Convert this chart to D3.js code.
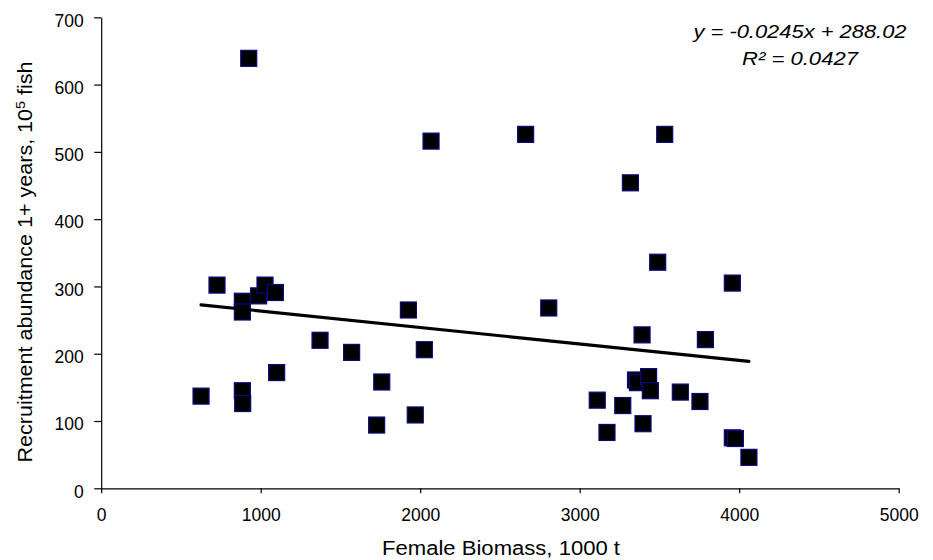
<!DOCTYPE html>
<html>
<head>
<meta charset="utf-8">
<script src="https://cdn.jsdelivr.net/npm/d3@7"></script>
<style>
  html, body { margin: 0; padding: 0; background: #fff; }
  svg { display: block; font-family: "Liberation Sans", Arial, sans-serif; }
</style>
</head>
<body>
<svg id="chart" width="933" height="560"></svg>
<script>
// Female biomass (1000 t)
const biomass = [626, 726, 885, 885, 885, 887, 925, 987, 1027, 1092,
                 1100, 1372, 1570, 1727, 1759, 1926, 1969, 2026, 2068, 2661,
                 2806, 3110, 3171, 3270, 3318, 3350, 3362, 3391, 3397, 3432,
                 3443, 3489, 3533, 3631, 3754, 3788, 3957, 3957, 3976, 4061];
// Recruitment abundance 1+ years (10^5 fish)
const recruitment = [137, 302, 278, 262, 145, 126, 639, 286, 302, 291,
                     172, 220, 202, 94, 158, 265, 109, 206, 516, 526,
                     268, 131, 83, 123, 454, 161, 157, 228, 96, 166,
                     145, 336, 526, 143, 129, 221, 305, 75, 74, 46];
// Trend line y = slope*x + intercept
const slope = -0.0245;
const intercept = 288.02;
const xTicks = [0, 1000, 2000, 3000, 4000, 5000];
const yTicks = [0, 100, 200, 300, 400, 500, 600, 700];
const equationLines = ["y = -0.0245x + 288.02", "R² = 0.0427"];

const svg = d3.select("#chart");
const x = d3.scaleLinear().domain([0, 5000]).range([101.2, 898.7]);
const y = d3.scaleLinear().domain([0, 700]).range([488.3, 17.3]);

// Axes
const xAxis = svg.append("g")
  .attr("transform", `translate(0,${y(0)})`)
  .call(d3.axisBottom(x).tickValues(xTicks).tickFormat(d3.format("d"))
    .tickSize(5).tickSizeOuter(0).tickPadding(15));
const yAxis = svg.append("g")
  .attr("transform", `translate(${x(0)},0)`)
  .call(d3.axisLeft(y).tickValues(yTicks).tickFormat(d3.format("d"))
    .tickSize(7).tickSizeOuter(0).tickPadding(10.5));

[xAxis, yAxis].forEach(g => {
  g.select(".domain").attr("stroke", "#000").attr("stroke-width", 1.2);
  g.selectAll(".tick line").attr("stroke", "#000").attr("stroke-width", 1.2);
  g.selectAll(".tick text").attr("fill", "#000")
    .style("font-size", "17.5px")
    .style("font-family", "'Liberation Sans', Arial, sans-serif");
});
yAxis.selectAll(".tick text").attr("dy", "0.5em");

// Points
const size = 16;
svg.append("g").selectAll("rect")
  .data(biomass.map((b, i) => [b, recruitment[i]]))
  .join("rect")
  .attr("x", d => x(d[0]) - size / 2)
  .attr("y", d => y(d[1]) - size / 2)
  .attr("width", size)
  .attr("height", size)
  .attr("fill", "#000")
  .attr("stroke", "#0a0a80")
  .attr("stroke-width", 1.2);

// Trend line
const xMin = d3.min(biomass), xMax = d3.max(biomass);
svg.append("line")
  .attr("x1", x(xMin)).attr("y1", y(slope * xMin + intercept))
  .attr("x2", x(xMax)).attr("y2", y(slope * xMax + intercept))
  .attr("stroke", "#000")
  .attr("stroke-width", 3.2)
  .attr("stroke-linecap", "round");

// Equation
const eqLen = [213, 116];
svg.append("g").selectAll("text")
  .data(equationLines)
  .join("text")
  .attr("x", 800)
  .attr("y", (d, i) => 38 + i * 27)
  .attr("text-anchor", "middle")
  .attr("textLength", (d, i) => eqLen[i])
  .attr("lengthAdjust", "spacingAndGlyphs")
  .style("font-style", "italic")
  .style("font-size", "19px")
  .attr("fill", "#000")
  .text(d => d);

// Axis titles
svg.append("text")
  .attr("x", 501).attr("y", 555)
  .attr("text-anchor", "middle")
  .attr("textLength", 238)
  .attr("lengthAdjust", "spacingAndGlyphs")
  .style("font-size", "19.5px")
  .attr("fill", "#000")
  .text("Female Biomass, 1000 t");

const yl = svg.append("text")
  .attr("transform", "translate(31.5,262) rotate(-90)")
  .attr("text-anchor", "middle")
  .attr("textLength", 401)
  .attr("lengthAdjust", "spacingAndGlyphs")
  .style("font-size", "19.5px")
  .attr("fill", "#000");
yl.append("tspan").text("Recruitment abundance 1+ years, 10");
yl.append("tspan").attr("dy", -7).style("font-size", "13px").text("5");
yl.append("tspan").attr("dy", 7).text(" fish");
</script>
</body>
</html>
